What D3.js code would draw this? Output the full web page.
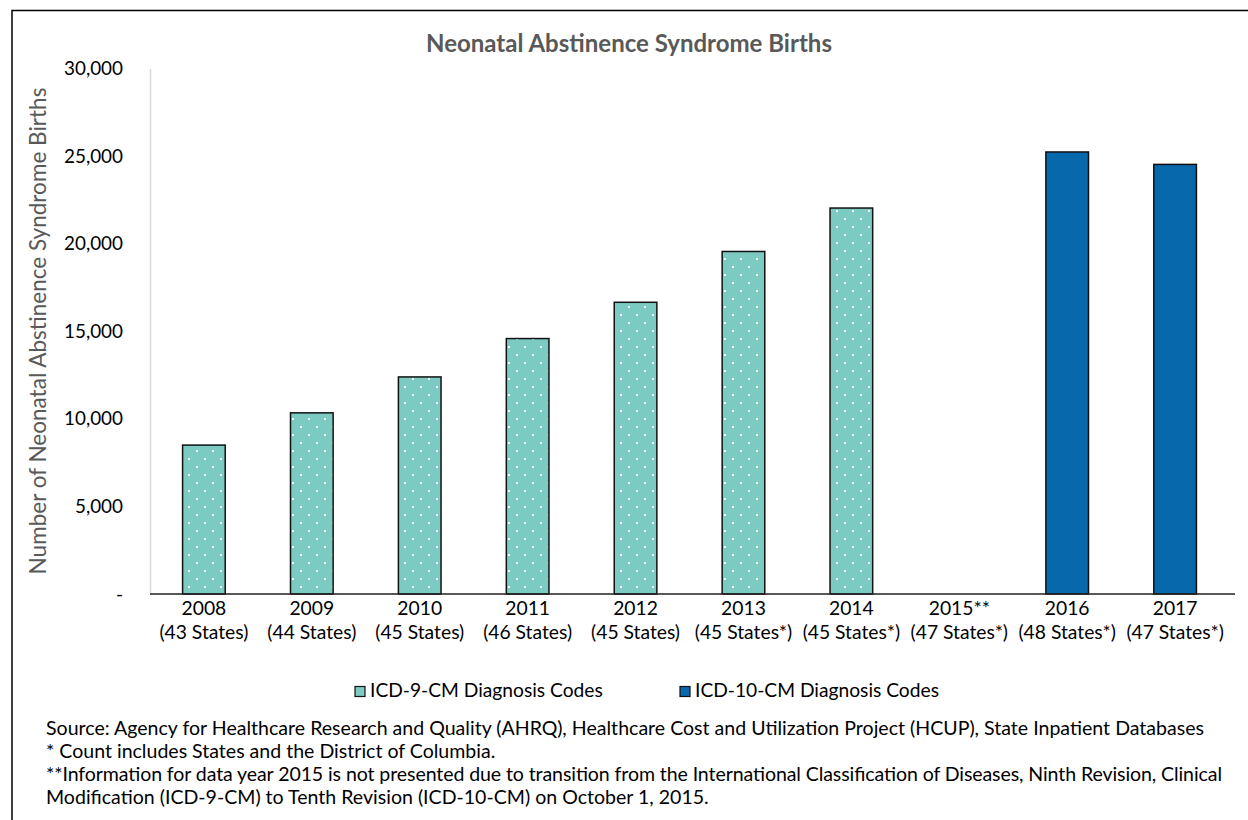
<!DOCTYPE html>
<html><head><meta charset="utf-8">
<script src="https://cdn.jsdelivr.net/npm/d3@7/dist/d3.min.js"></script>
<style>body{margin:0;background:#fff}svg{display:block}text{font-family:Lato,"Open Sans",sans-serif}</style>
</head><body>
<svg id="c" width="1248" height="820"></svg>
<script>
const years = ["2008","2009","2010","2011","2012","2013","2014","2015**","2016","2017"];
const states = ["(43 States)","(44 States)","(45 States)","(46 States)","(45 States)","(45 States*)","(45 States*)","(47 States*)","(48 States*)","(47 States*)"];
const icd9 = [8500,10340,12390,14580,16650,19550,22030,null,null,null];
const icd10 = [null,null,null,null,null,null,null,null,25230,24520];
const yTicks = [0,5000,10000,15000,20000,25000,30000];
const seriesNames = ["ICD-9-CM Diagnosis Codes","ICD-10-CM Diagnosis Codes"];
const notes = [
 "Source: Agency for Healthcare Research and Quality (AHRQ), Healthcare Cost and Utilization Project (HCUP), State Inpatient Databases",
 "* Count includes States and the District of Columbia.",
 "**Information for data year 2015 is not presented due to transition from the International Classification of Diseases, Ninth Revision, Clinical",
 "Modification (ICD-9-CM) to Tenth Revision (ICD-10-CM) on October 1, 2015."
];
const noteWidths = [1158, null, 1176, null];

const svg = d3.select("#c");
const teal = "#7ccbc2", blue = "#0868ac";

const defs = svg.append("defs");
const pat = defs.append("pattern").attr("id","dots").attr("patternUnits","userSpaceOnUse")
  .attr("width",16).attr("height",16).attr("x",4).attr("y",2);
pat.append("rect").attr("width",16).attr("height",16).attr("fill",teal);
pat.append("rect").attr("x",0).attr("y",0).attr("width",2).attr("height",2).attr("fill","#fff");
pat.append("rect").attr("x",8).attr("y",8).attr("width",2).attr("height",2).attr("fill","#fff");

function fit(sel, w){
  sel.each(function(){
    const fs = parseFloat(this.getAttribute("font-size"));
    const cur = this.getComputedTextLength();
    this.setAttribute("font-size", (fs*w/cur).toFixed(2));
  });
}

// outer frame (left and top)
svg.append("path").attr("d","M12,820 V10.5 H1248").attr("fill","none").attr("stroke","#000").attr("stroke-width",1.5);

const x = d3.scaleBand().domain(years).range([150,1229]).paddingInner(0.605).paddingOuter(0.302);
const y = d3.scaleLinear().domain([0,30000]).range([594,68.4]);

// y axis
const ya = svg.append("g").attr("transform","translate(150,0)")
  .call(d3.axisLeft(y).tickValues(yTicks).tickSize(0).tickPadding(27)
  .tickFormat(d=> d===0 ? "-" : d3.format(",")(d)));
ya.select(".domain").attr("stroke","#d9d9d9").attr("stroke-width",1.5);
ya.selectAll("text").attr("font-size",17).attr("fill","#000").attr("font-family","Lato");
fit(ya.selectAll(".tick text").filter(d=>d===30000), 59);
const tfs = ya.selectAll(".tick text").filter(d=>d===30000).attr("font-size");
ya.selectAll(".tick text").attr("font-size",tfs);

// bars
const g = svg.append("g");
g.selectAll("rect.b9").data(years.map((d,i)=>({k:d,v:icd9[i]})).filter(d=>d.v!=null))
 .join("rect").attr("x",d=>x(d.k)).attr("width",x.bandwidth())
 .attr("y",d=>y(d.v)).attr("height",d=>y(0)-y(d.v))
 .attr("fill","url(#dots)").attr("stroke","#111").attr("stroke-width",1.5);
g.selectAll("rect.b10").data(years.map((d,i)=>({k:d,v:icd10[i]})).filter(d=>d.v!=null))
 .join("rect").attr("x",d=>x(d.k)).attr("width",x.bandwidth())
 .attr("y",d=>y(d.v)).attr("height",d=>y(0)-y(d.v))
 .attr("fill",blue).attr("stroke","#111").attr("stroke-width",1.5);

// baseline
svg.append("line").attr("x1",150).attr("x2",1235).attr("y1",y(0)).attr("y2",y(0))
  .attr("stroke","#222").attr("stroke-width",1.5);

// x labels
const xl = svg.append("g");
years.forEach((yr,i)=>{
  const cx = x(yr)+x.bandwidth()/2;
  xl.append("text").attr("class","l1").attr("x",cx).attr("y",615).attr("text-anchor","middle")
    .attr("font-size",16).attr("fill","#000").text(yr);
  xl.append("text").attr("class","l2").attr("x",cx).attr("y",639).attr("text-anchor","middle")
    .attr("font-size",16).attr("fill","#000").text(states[i]);
});
fit(xl.select(".l2"), 89);
const xfs = xl.select(".l2").attr("font-size");
xl.selectAll("text").attr("font-size",xfs);

// title
const title = svg.append("text").attr("x",629).attr("y",52).attr("text-anchor","middle")
 .attr("font-size",19).attr("font-weight","bold").attr("fill","#595959")
 .text("Neonatal Abstinence Syndrome Births");
fit(title, 406);

// y label
const yl = svg.append("text").attr("transform","translate(46,331) rotate(-90)").attr("text-anchor","middle")
 .attr("font-size",18).attr("fill","#595959").text("Number of Neonatal Abstinence Syndrome Births");
fit(yl, 487);

// legend
const leg = svg.append("g");
const legX = [355, 680];
seriesNames.forEach((n,i)=>{
  leg.append("rect").attr("x",legX[i]).attr("y",686.5).attr("width",10).attr("height",10)
   .attr("fill", i===0 ? teal : blue).attr("stroke","#111").attr("stroke-width",1.2);
  leg.append("text").attr("x",legX[i]+15).attr("y",697).attr("font-size",17).attr("fill","#000").text(n);
});
fit(leg.select("text"), 233);
const lfs = leg.select("text").attr("font-size");
leg.selectAll("text").attr("font-size",lfs);

// notes
const nb = [735, 758, 781, 804];
const ng = svg.append("g");
notes.forEach((t,i)=>{
  ng.append("text").attr("x",46).attr("y",nb[i]).attr("font-size",15).attr("fill","#000").text(t);
});
fit(ng.select("text"), noteWidths[0]);
const nfs = ng.select("text").attr("font-size");
ng.selectAll("text").attr("font-size",nfs);
ng.selectAll("text").nodes().forEach((n,i)=>{
  if (noteWidths[i]) { n.setAttribute("textLength", noteWidths[i]); n.setAttribute("lengthAdjust","spacing"); }
});
</script>
</body></html>
